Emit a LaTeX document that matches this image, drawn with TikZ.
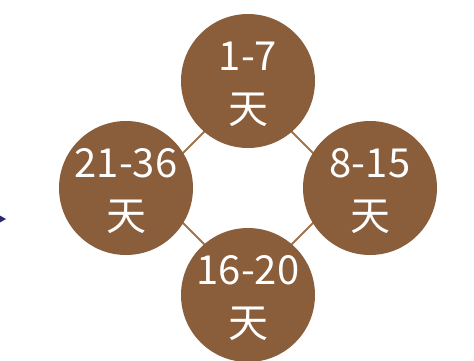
\documentclass[tikz,border=0pt]{standalone}
\usepackage{fontspec}
\newfontfamily\cjk{Noto Sans CJK SC}
\definecolor{brownfill}{HTML}{8A5D3B}
\definecolor{brownline}{HTML}{A0734B}
\definecolor{navy}{HTML}{2A2870}
\begin{document}
\begin{tikzpicture}[x=1pt,y=-1pt,
  daycircle/.style={circle,fill=brownfill,minimum size=134pt,inner sep=0pt,text=white,
    font=\cjk\fontsize{40}{53}\selectfont,align=center,yshift=-3pt},
  link/.style={draw=brownline,line width=2pt}]
\useasboundingbox (0,0) rectangle (474,360);
\fill[navy] (-8,211) -- (6,219) -- (-8,227) -- cycle;
\coordinate (dt) at (248,88);
\coordinate (dl) at (148,188);
\coordinate (dr) at (348,188);
\coordinate (db) at (248,288);
\draw[link] (dt) -- (dr) -- (db) -- (dl) -- cycle;
\fill[brownfill] (248,81) circle (67) (370,188) circle (67) (126,188) circle (67) (248,295) circle (67);
\node[daycircle,fill=none] (top) at (248,81) {1-7\\天};
\node[daycircle,fill=none] (right) at (370,188) {8-15\\天};
\node[daycircle,fill=none] (left) at (126,188) {21-36\\天};
\node[daycircle,fill=none] (bottom) at (248,295) {16-20\\天};
\end{tikzpicture}
\end{document}
